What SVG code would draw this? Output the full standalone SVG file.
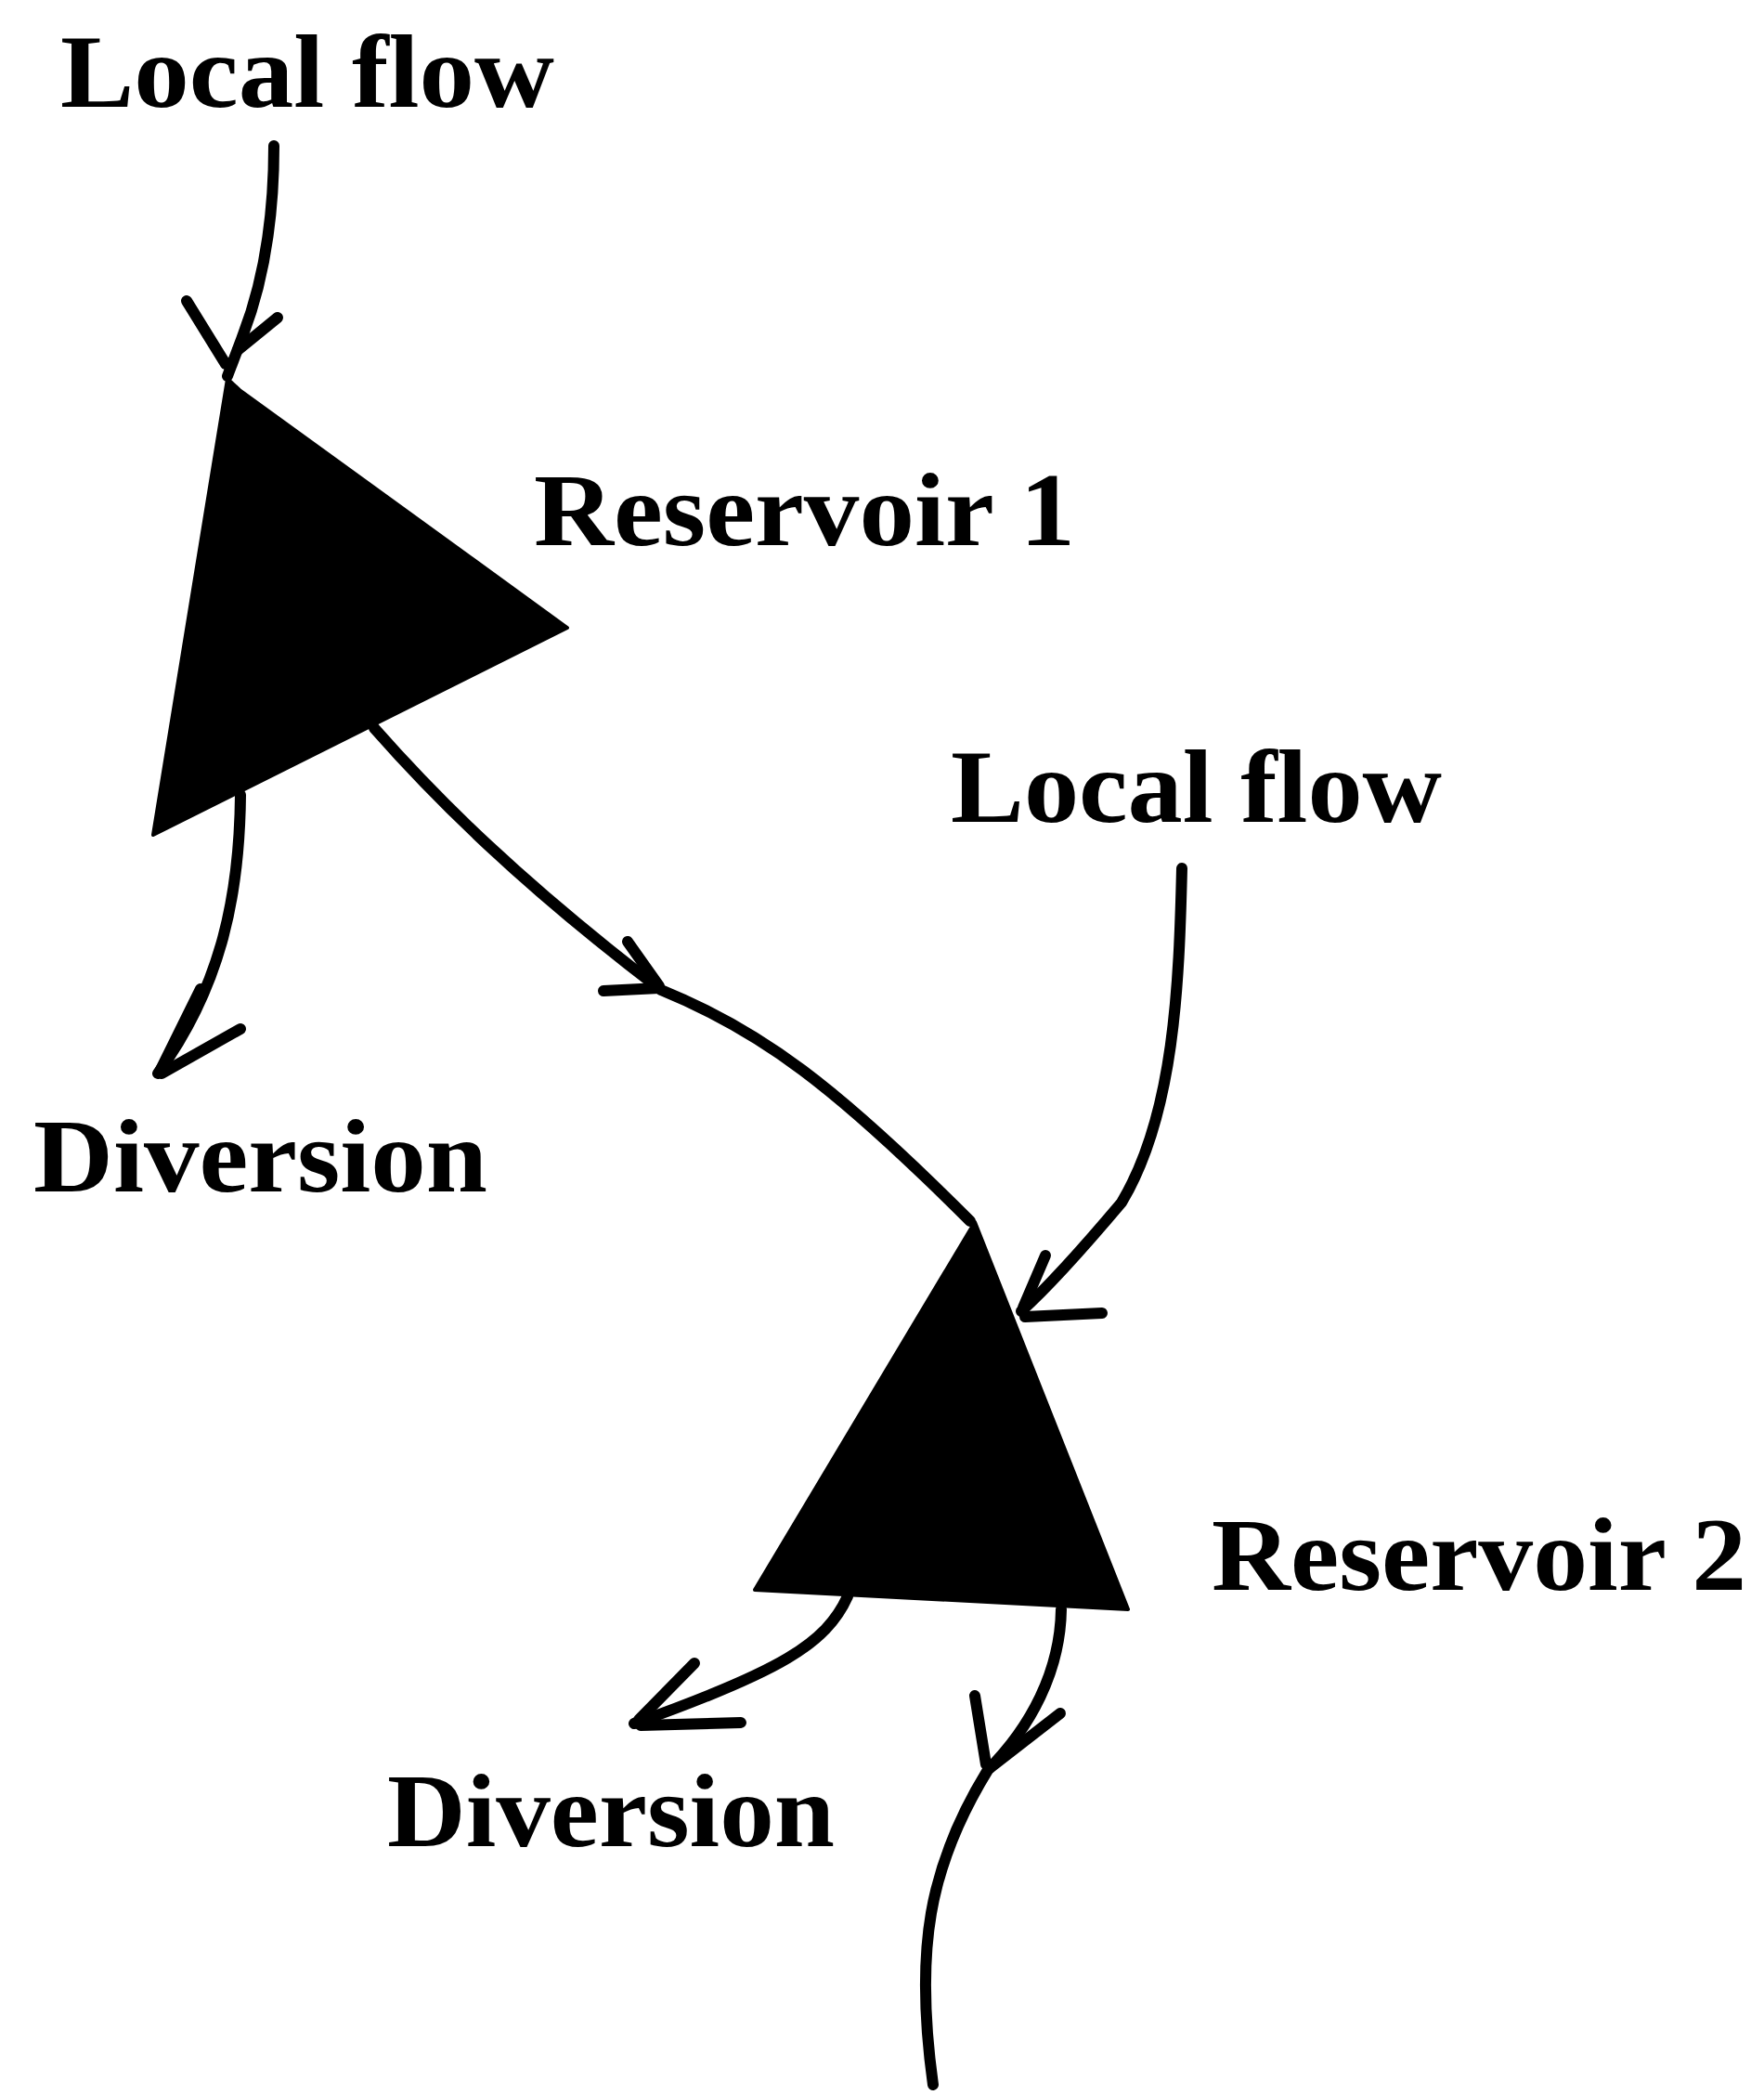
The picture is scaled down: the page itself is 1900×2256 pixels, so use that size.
<svg xmlns="http://www.w3.org/2000/svg" width="1900" height="2256" viewBox="0 0 1900 2256">
<style>
  .lbl { font-family: "Liberation Serif", "DejaVu Serif", serif; font-weight: bold; font-size: 112px; fill: #000; }
  .res { fill: #000; stroke: #000; stroke-width: 4; stroke-linejoin: round; }
  .flow { fill: none; stroke: #000; stroke-width: 12; stroke-linecap: round; stroke-linejoin: round; }
</style>
<rect width="1900" height="2256" fill="#fff"/>
<g id="local-flow-1"><text class="lbl" x="65" y="115" textLength="532" lengthAdjust="spacingAndGlyphs">Local flow</text></g>
<g id="reservoir-1">
  <polygon class="res" points="245,408 258,420 611,676 165,899"/>
  <text class="lbl" x="575" y="587" textLength="583" lengthAdjust="spacingAndGlyphs">Reservoir 1</text>
</g>
<g id="local-flow-2"><text class="lbl" x="1024" y="885" textLength="529" lengthAdjust="spacingAndGlyphs">Local flow</text></g>
<g id="diversion-1"><text class="lbl" x="36" y="1283" textLength="489" lengthAdjust="spacingAndGlyphs">Diversion</text></g>
<g id="reservoir-2">
  <polygon class="res" points="1050,1316 1215,1733 813,1712"/>
  <text class="lbl" x="1305" y="1712" textLength="576" lengthAdjust="spacingAndGlyphs">Reservoir 2</text>
</g>
<g id="diversion-2"><text class="lbl" x="417" y="1988" textLength="482" lengthAdjust="spacingAndGlyphs">Diversion</text></g>
<g id="connectors">
  <path class="flow" d="M295,157 C295,230 285,300 262,360 L245,405"/>
  <path class="flow" d="M201,324 L243,392 M299,342 L256,377"/>
  <path class="flow" d="M259,856 C258,960 240,1060 170,1156"/>
  <path class="flow" d="M216,1065 L172,1154 M259,1108 L174,1156"/>
  <path class="flow" d="M403,784 C470,860 560,950 712,1066 C820,1110 900,1170 1045,1315"/>
  <path class="flow" d="M676,1014 L710,1062 M650,1067 L710,1064"/>
  <path class="flow" d="M1273,935 C1270,1060 1265,1200 1208,1295 C1170,1340 1130,1385 1100,1412"/>
  <path class="flow" d="M1126,1352 L1102,1408 M1187,1414 L1104,1418"/>
  <path class="flow" d="M913,1719 C890,1770 840,1800 683,1856"/>
  <path class="flow" d="M748,1791 L688,1852 M798,1855 L690,1858"/>
  <path class="flow" d="M1143,1733 C1142,1800 1110,1860 1064,1906 C1000,2010 985,2100 1005,2245"/>
  <path class="flow" d="M1050,1826 L1062,1900 M1142,1845 L1066,1904"/>
</g>
</svg>
